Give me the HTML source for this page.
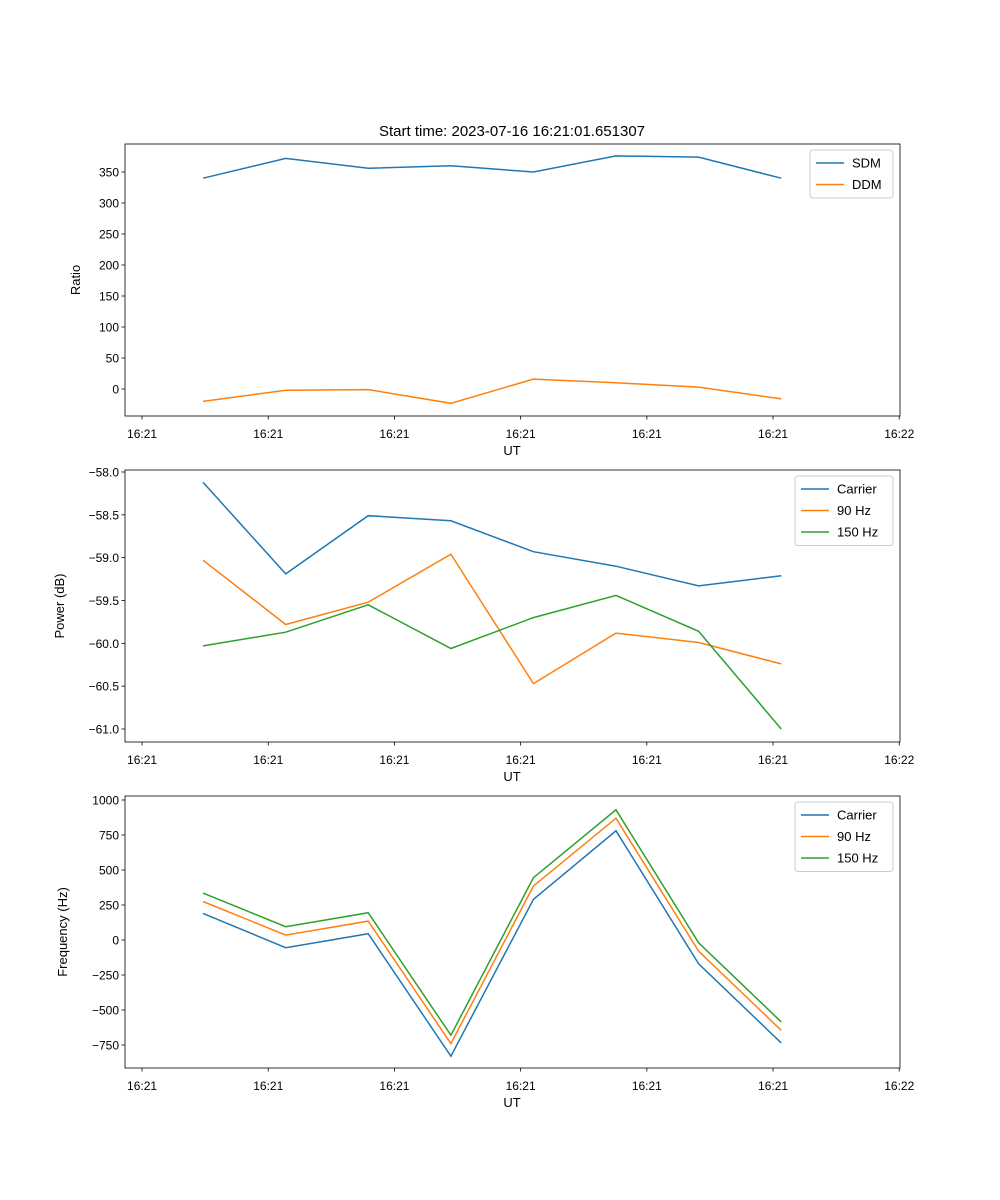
<!DOCTYPE html>
<html><head><meta charset="utf-8"><style>body{margin:0;background:#fff}svg{display:block;font-family:"Liberation Sans","DejaVu Sans",sans-serif}</style></head>
<body>
<svg id="fig" width="1000" height="1200" xmlns="http://www.w3.org/2000/svg">
<text x="512" y="136" font-size="15" text-anchor="middle">Start time: 2023-07-16 16:21:01.651307</text>
</svg>
<script>
const times = [4.83, 11.38, 17.92, 24.47, 31.01, 37.56, 44.10, 50.65];
const xTicks = [0, 10, 20, 30, 40, 50, 60];
const xTickLabels = ["16:21","16:21","16:21","16:21","16:21","16:21","16:22"];
const sdm = [340, 372, 356, 360, 350, 376, 374, 340];
const ddm = [-20, -2, -1, -23, 16, 10, 3, -16];
const pCarrier = [-58.12, -59.19, -58.51, -58.57, -58.93, -59.10, -59.33, -59.21];
const p90 = [-59.03, -59.78, -59.52, -58.96, -60.47, -59.88, -59.99, -60.24];
const p150 = [-60.03, -59.87, -59.55, -60.06, -59.70, -59.44, -59.86, -61.00];
const fCarrier = [190, -55, 45, -830, 290, 780, -170, -735];
const f90 = [275, 35, 135, -740, 385, 870, -80, -645];
const f150 = [335, 95, 195, -680, 445, 930, -20, -585];
const yTicks1 = [0, 50, 100, 150, 200, 250, 300, 350];
const yTicks2 = [-61.0, -60.5, -60.0, -59.5, -59.0, -58.5, -58.0];
const yTicks3 = [-750, -500, -250, 0, 250, 500, 750, 1000];

const NS = "http://www.w3.org/2000/svg";
const svg = document.getElementById('fig');
function mk(tag, attrs, parent){const e=document.createElementNS(NS,tag);for(const k in attrs)e.setAttribute(k,attrs[k]);(parent||svg).appendChild(e);return e;}
const L=125,R=900;
const xS = t => L + (t + 1.35) / 61.41 * (R - L);

function panel(name, top, bot, v1, y1, v2, y2, yTicks, fmt, ylabel, series, legend){
  const yS = v => y1 + (v - v1) / (v2 - v1) * (y2 - y1);
  const g = mk('g', {});
  
  
  series.forEach(s=>{
    const p = mk('polyline',{points:s.d.map((v,i)=>xS(times[i]).toFixed(1)+','+yS(v).toFixed(1)).join(' '),fill:'none',stroke:s.c,'stroke-width':1.5},g);
    
    
  });
  const fr = mk('rect',{x:L,y:top,width:R-L,height:bot-top,fill:'none',stroke:'#000','stroke-width':0.8},g);
  
  
  xTicks.forEach((t,i)=>{
    const x=xS(t);
    mk('line',{x1:x,x2:x,y1:bot,y2:bot+3.5,stroke:'#000','stroke-width':0.8},g);
    const tx=mk('text',{x:x,y:bot+22,'font-size':12,'text-anchor':'middle'},g);
    tx.textContent=xTickLabels[i];
    
    
  });
  const xl=mk('text',{x:512,y:bot+39,'font-size':13,'text-anchor':'middle'},g);
  xl.textContent='UT';
  
  
  yTicks.forEach(v=>{
    const y=yS(v);
    mk('line',{x1:L-3.5,x2:L,y1:y,y2:y,stroke:'#000','stroke-width':0.8},g);
    const tx=mk('text',{x:L-6,y:y+4.5,'font-size':12,'text-anchor':'end'},g);
    tx.textContent=fmt(v);
    
    
  });
  const yl=mk('text',{x:0,y:0,'font-size':13,'text-anchor':'middle',transform:`translate(${legend.yx},${(top+bot)/2}) rotate(-90)`},g);
  yl.textContent=ylabel;
  
  
  const lg=mk('g',{},g);
  
  
  const h=series.length*21.5+5;
  mk('rect',{x:legend.x,y:top+6,width:R-7-legend.x,height:h,fill:'#fff',stroke:'#ccc',rx:3},lg);
  series.forEach((s,i)=>{
    const yy=top+19+i*21.5;
    mk('line',{x1:legend.x+6,x2:legend.x+34,y1:yy,y2:yy,stroke:s.c,'stroke-width':1.5},lg);
    const t=mk('text',{x:legend.x+42,y:yy+4.5,'font-size':13},lg);
    t.textContent=s.n;
    
    
  });
}
const B='#1f77b4',O='#ff7f0e',G='#2ca02c';
panel('ratio-panel',144,416,0,389,350,172,yTicks1,v=>String(v),'Ratio',
  [{n:'SDM',d:sdm,c:B},{n:'DDM',d:ddm,c:O}],{x:810,yx:80});
panel('power-panel',470,742,-58,472,-61,729,yTicks2,v=>v.toFixed(1).replace('-','\u2212'),'Power (dB)',
  [{n:'Carrier',d:pCarrier,c:B},{n:'90 Hz',d:p90,c:O},{n:'150 Hz',d:p150,c:G}],{x:795,yx:64});
panel('frequency-panel',796,1068,1000,800,-750,1045,yTicks3,v=>String(v).replace('-','\u2212'),'Frequency (Hz)',
  [{n:'Carrier',d:fCarrier,c:B},{n:'90 Hz',d:f90,c:O},{n:'150 Hz',d:f150,c:G}],{x:795,yx:67});
</script>
</body></html>
